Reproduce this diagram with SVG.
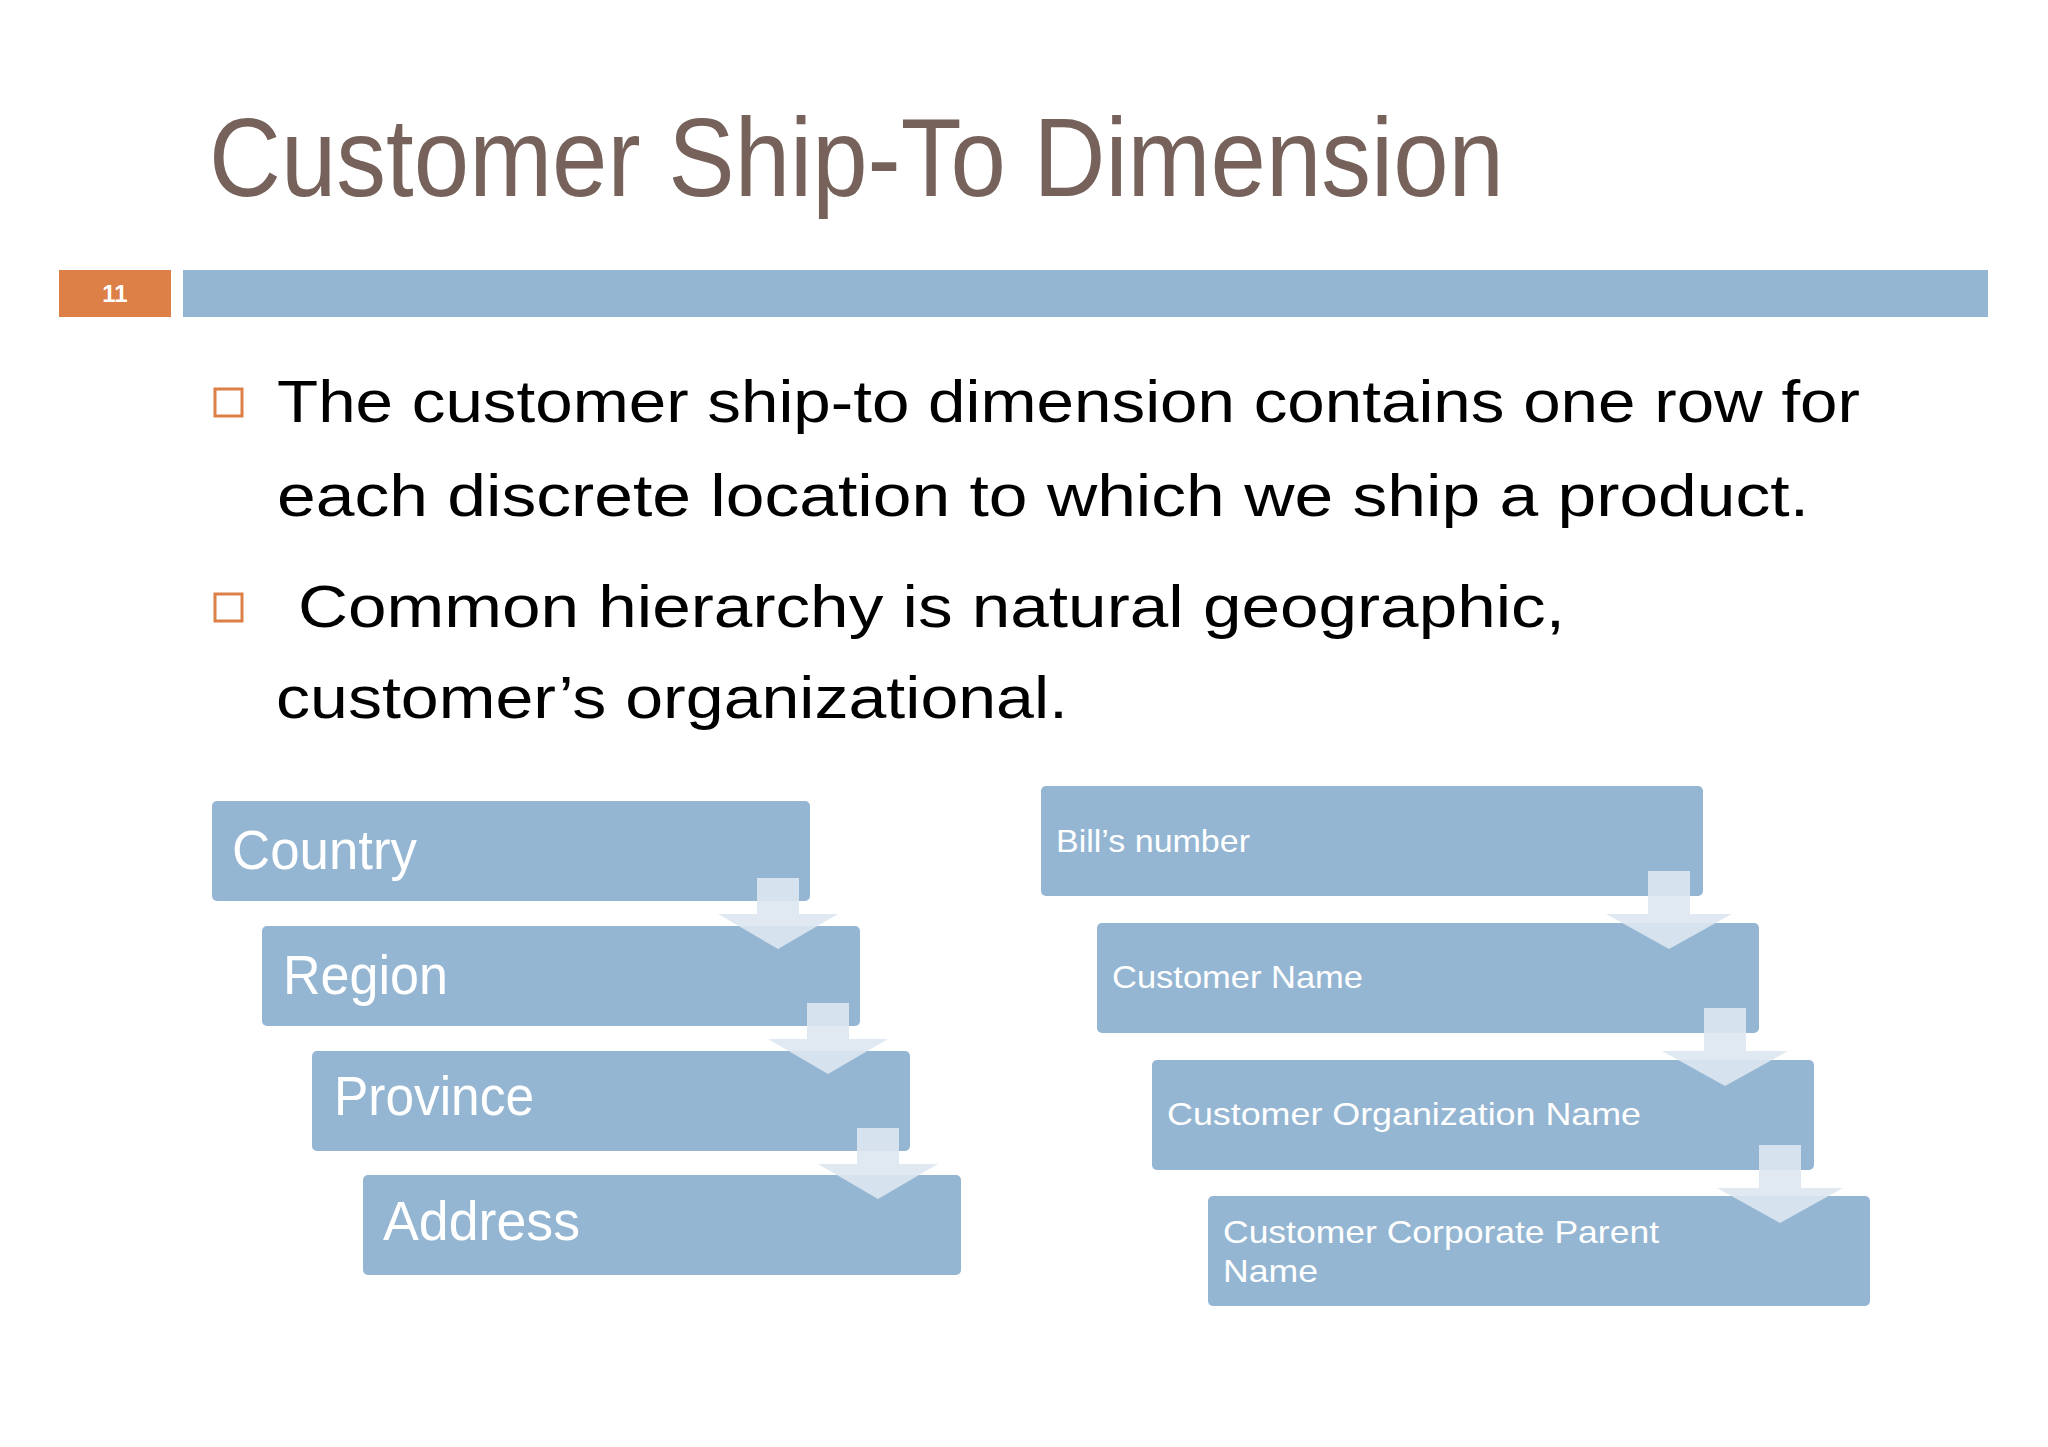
<svg xmlns="http://www.w3.org/2000/svg" width="2048" height="1447" viewBox="0 0 2048 1447">
<style>
.t{font-family:"Liberation Sans",Arial,sans-serif}
.box{fill:#94b6d2}
.arr{fill:#dde7f1;opacity:0.9}
.lb{fill:#fff;font-family:"Liberation Sans",Arial,sans-serif}
.body{font-family:"Liberation Sans",Arial,sans-serif;font-size:60px;fill:#000}
.bul{fill:none;stroke:#dd8047;stroke-width:3}
</style>
<rect width="2048" height="1447" fill="#fff"/>
<text class="t" x="209" y="196" font-size="112" fill="#76625b" textLength="1295" lengthAdjust="spacingAndGlyphs">Customer Ship-To Dimension</text>
<rect x="59" y="270" width="112" height="47" fill="#dd8047"/>
<text class="t" x="115" y="302" font-size="24" font-weight="bold" fill="#fff" text-anchor="middle">11</text>
<rect x="183" y="270" width="1805" height="47" fill="#94b6d2"/>
<rect class="bul" x="215" y="389" width="27" height="27"/>
<rect class="bul" x="215" y="594" width="27" height="27"/>
<text class="body" x="277" y="422" textLength="1583" lengthAdjust="spacingAndGlyphs">The customer ship-to dimension contains one row for</text>
<text class="body" x="277" y="516" textLength="1532" lengthAdjust="spacingAndGlyphs">each discrete location to which we ship a product.</text>
<text class="body" x="298" y="627" textLength="1267" lengthAdjust="spacingAndGlyphs">Common hierarchy is natural geographic,</text>
<text class="body" x="276" y="718" textLength="792" lengthAdjust="spacingAndGlyphs">customer’s organizational.</text>
<g id="country"><rect class="box" x="212" y="801" width="598" height="100" rx="5"/><text class="lb" x="232" y="869" font-size="56" textLength="185" lengthAdjust="spacingAndGlyphs">Country</text></g>
<g id="region"><rect class="box" x="262" y="926" width="598" height="100" rx="5"/><text class="lb" x="283" y="994" font-size="56" textLength="165" lengthAdjust="spacingAndGlyphs">Region</text></g>
<g id="province"><rect class="box" x="312" y="1051" width="598" height="100" rx="5"/><text class="lb" x="334" y="1115" font-size="56" textLength="200" lengthAdjust="spacingAndGlyphs">Province</text></g>
<g id="address"><rect class="box" x="363" y="1175" width="598" height="100" rx="5"/><text class="lb" x="383" y="1240" font-size="56" textLength="197" lengthAdjust="spacingAndGlyphs">Address</text></g>
<g id="bills"><rect class="box" x="1041" y="786" width="662" height="110" rx="5"/><text class="lb" x="1056" y="852" font-size="32" textLength="194" lengthAdjust="spacingAndGlyphs">Bill’s number</text></g>
<g id="custname"><rect class="box" x="1097" y="923" width="662" height="110" rx="5"/><text class="lb" x="1112" y="988" font-size="32" textLength="251" lengthAdjust="spacingAndGlyphs">Customer Name</text></g>
<g id="orgname"><rect class="box" x="1152" y="1060" width="662" height="110" rx="5"/><text class="lb" x="1167" y="1125" font-size="32" textLength="474" lengthAdjust="spacingAndGlyphs">Customer Organization Name</text></g>
<g id="parent"><rect class="box" x="1208" y="1196" width="662" height="110" rx="5"/><text class="lb" x="1223" y="1243" font-size="32" textLength="436" lengthAdjust="spacingAndGlyphs">Customer Corporate Parent</text><text class="lb" x="1223" y="1282" font-size="32" textLength="95" lengthAdjust="spacingAndGlyphs">Name</text></g>
<g id="connectors">
<path class="arr" d="M757 878h42v36h39l-60 35-60-35h39z"/>
<path class="arr" d="M807 1003h42v36h39l-60 35-60-35h39z"/>
<path class="arr" d="M857 1128h42v36h39l-60 35-60-35h39z"/>
<path class="arr" d="M1648 871h42v43h42l-63 35-63-35h42z"/>
<path class="arr" d="M1704 1008h42v43h42l-63 35-63-35h42z"/>
<path class="arr" d="M1759 1145h42v43h42l-63 35-63-35h42z"/>
</g>
</svg>
